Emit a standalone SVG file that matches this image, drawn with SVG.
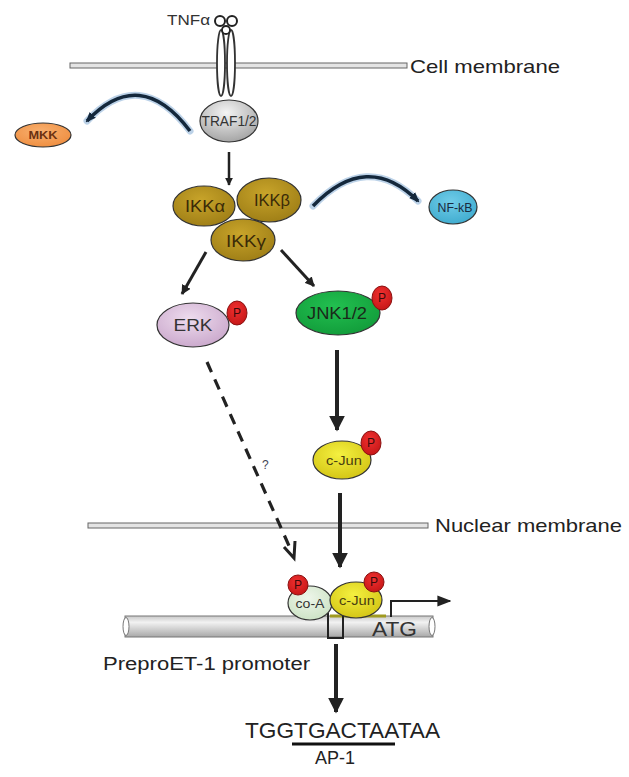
<svg xmlns="http://www.w3.org/2000/svg" width="629" height="777" viewBox="0 0 629 777">
<style>
text{font-family:"Liberation Sans",Arial,sans-serif;}
.lbl{font-size:19px;fill:#222;}
.node{stroke:#333;stroke-width:1.2;}
.p{fill:url(#gP);stroke:#8a1010;stroke-width:1;}
.pt{font-size:12px;fill:#3a0a0a;text-anchor:middle;}
.blk{stroke:#222;fill:none;}
.mem{fill:#e4e4e4;stroke:#666;stroke-width:1;}
</style>
<defs>
<radialGradient id="gTraf" cx="0.45" cy="0.3" r="0.8"><stop offset="0" stop-color="#f4f4f4"/><stop offset="1" stop-color="#9a9a9a"/></radialGradient>
<radialGradient id="gIkk" cx="0.45" cy="0.35" r="0.75"><stop offset="0" stop-color="#c8a42a"/><stop offset="1" stop-color="#9a7a14"/></radialGradient>
<radialGradient id="gErk" cx="0.45" cy="0.35" r="0.75"><stop offset="0" stop-color="#eedcee"/><stop offset="1" stop-color="#c6a2c8"/></radialGradient>
<radialGradient id="gJnk" cx="0.45" cy="0.35" r="0.75"><stop offset="0" stop-color="#22c050"/><stop offset="1" stop-color="#109838"/></radialGradient>
<radialGradient id="gJun" cx="0.45" cy="0.35" r="0.75"><stop offset="0" stop-color="#f4f040"/><stop offset="1" stop-color="#d0c010"/></radialGradient>
<radialGradient id="gCoa" cx="0.45" cy="0.35" r="0.75"><stop offset="0" stop-color="#eef6ea"/><stop offset="1" stop-color="#c8e0c0"/></radialGradient>
<radialGradient id="gP" cx="0.45" cy="0.35" r="0.75"><stop offset="0" stop-color="#f03030"/><stop offset="1" stop-color="#c01414"/></radialGradient>
<radialGradient id="gMkk" cx="0.45" cy="0.35" r="0.75"><stop offset="0" stop-color="#f8b070"/><stop offset="1" stop-color="#ee8a3a"/></radialGradient>
<radialGradient id="gNfkb" cx="0.45" cy="0.35" r="0.75"><stop offset="0" stop-color="#70cce8"/><stop offset="1" stop-color="#3aa8cc"/></radialGradient>
<linearGradient id="gCyl" x1="0" y1="0" x2="0" y2="1"><stop offset="0" stop-color="#c8c8c8"/><stop offset="0.3" stop-color="#f2f2f2"/><stop offset="1" stop-color="#a8a8a8"/></linearGradient>
<marker id="ah" viewBox="0 0 10 10" refX="9" refY="5" markerWidth="4" markerHeight="4" markerUnits="strokeWidth" orient="auto"><path d="M0,0 L10,5 L0,10 z" fill="#222"/></marker>
<marker id="ahs" viewBox="0 0 10 10" refX="9" refY="5" markerWidth="3.2" markerHeight="3.2" markerUnits="strokeWidth" orient="auto"><path d="M0,0 L10,5 L0,10 z" fill="#222"/></marker>
<marker id="ahb" viewBox="0 0 10 10" refX="8" refY="5" markerWidth="3" markerHeight="3" markerUnits="strokeWidth" orient="auto"><path d="M0,1 L10,5 L0,9 z" fill="#14283c"/></marker>
<marker id="aht" viewBox="0 0 10 10" refX="9" refY="5" markerWidth="7" markerHeight="7" markerUnits="strokeWidth" orient="auto"><path d="M0,1 L10,5 L0,9 z" fill="#222"/></marker>
</defs>

<g id="membranes">
<rect class="mem" x="70" y="63" width="337" height="5"/>
<text class="lbl" x="410" y="73" textLength="150" lengthAdjust="spacingAndGlyphs">Cell membrane</text>
<rect class="mem" x="88" y="523" width="340" height="5"/>
<text class="lbl" x="435" y="532" textLength="187" lengthAdjust="spacingAndGlyphs">Nuclear membrane</text>
</g>

<g id="tnf-receptor">
<ellipse cx="221" cy="63" rx="4" ry="33" fill="#fff" stroke="#333" stroke-width="1.8"/>
<ellipse cx="231" cy="63" rx="4" ry="33" fill="#fff" stroke="#333" stroke-width="1.8"/>
<circle cx="220" cy="21" r="5" fill="#fff" stroke="#222" stroke-width="2"/>
<circle cx="232" cy="21" r="5" fill="#fff" stroke="#222" stroke-width="2"/>
<circle cx="226" cy="30" r="4" fill="#fff" stroke="#222" stroke-width="1.8"/>
<text x="167" y="25" textLength="43" lengthAdjust="spacingAndGlyphs" style="font-size:14px;fill:#333">TNFα</text>
</g>

<g id="connectors">
<path d="M190,131 Q140,65 87,121" fill="none" stroke="#8fb4d8" stroke-width="7" stroke-linecap="round" opacity="0.6"/>
<path d="M190,131 Q140,65 87,121" fill="none" stroke="#14283c" stroke-width="3.5" marker-end="url(#ahb)"/>
<path d="M313,206 Q367,150 418,201" fill="none" stroke="#8fb4d8" stroke-width="7" stroke-linecap="round" opacity="0.6"/>
<path d="M313,206 Q367,150 418,201" fill="none" stroke="#14283c" stroke-width="3.5" marker-end="url(#ahb)"/>
<line class="blk" x1="229" y1="152" x2="229" y2="185" stroke-width="2.5" marker-end="url(#ahs)"/>
<line class="blk" x1="206" y1="252" x2="182" y2="294" stroke-width="3" marker-end="url(#ahs)"/>
<line class="blk" x1="281" y1="250" x2="314" y2="286" stroke-width="3" marker-end="url(#ahs)"/>
<line class="blk" x1="337" y1="350" x2="337" y2="430" stroke-width="4" marker-end="url(#ah)"/>
<line class="blk" x1="340" y1="493" x2="340" y2="567" stroke-width="4" marker-end="url(#ah)"/>
<line class="blk" x1="207" y1="362" x2="290" y2="548" stroke-width="3.2" stroke-dasharray="11 8"/>
<path class="blk" d="M284,547 L294,558 L295,541" stroke-width="3"/>
<line class="blk" x1="336" y1="644" x2="336" y2="712" stroke-width="4" marker-end="url(#ah)"/>
<text x="262" y="469" style="font-size:12px;fill:#445">?</text>
</g>

<g id="traf">
<ellipse class="node" cx="229" cy="121" rx="29" ry="21" fill="url(#gTraf)"/>
<text x="229" y="126" text-anchor="middle" textLength="55" lengthAdjust="spacingAndGlyphs" style="font-size:14px;fill:#333">TRAF1/2</text>
</g>

<g id="mkk">
<ellipse class="node" cx="43" cy="135" rx="28" ry="12" fill="url(#gMkk)"/>
<text x="43" y="139" text-anchor="middle" textLength="29" lengthAdjust="spacingAndGlyphs" style="font-size:10px;font-weight:bold;fill:#6a3010">MKK</text>
</g>

<g id="nfkb">
<ellipse class="node" cx="453" cy="207" rx="24" ry="17" fill="url(#gNfkb)"/>
<text x="455" y="212" text-anchor="middle" textLength="35" lengthAdjust="spacingAndGlyphs" style="font-size:12px;fill:#1a2a40">NF-kB</text>
</g>

<g id="ikk">
<ellipse class="node" cx="204" cy="206" rx="31" ry="20" fill="url(#gIkk)"/>
<text x="205" y="212" text-anchor="middle" textLength="40" lengthAdjust="spacingAndGlyphs" style="font-size:17px;fill:#3a2a08">IKKα</text>
<ellipse class="node" cx="269" cy="200" rx="32" ry="22" fill="url(#gIkk)"/>
<text x="272" y="206" text-anchor="middle" textLength="36" lengthAdjust="spacingAndGlyphs" style="font-size:17px;fill:#3a2a08">IKKβ</text>
<ellipse class="node" cx="243" cy="240" rx="32" ry="21" fill="url(#gIkk)"/>
<text x="246" y="247" text-anchor="middle" textLength="40" lengthAdjust="spacingAndGlyphs" style="font-size:17px;fill:#3a2a08">IKKγ</text>
</g>

<g id="erk">
<ellipse class="node" cx="193" cy="325" rx="36" ry="22" fill="url(#gErk)"/>
<text x="193" y="331" text-anchor="middle" textLength="39" lengthAdjust="spacingAndGlyphs" style="font-size:17px;fill:#333">ERK</text>
<ellipse class="p" cx="237" cy="313" rx="10" ry="12"/>
<text class="pt" x="237" y="317">P</text>
</g>

<g id="jnk">
<ellipse class="node" cx="338" cy="313" rx="42" ry="22" fill="url(#gJnk)"/>
<text x="337" y="319" text-anchor="middle" textLength="60" lengthAdjust="spacingAndGlyphs" style="font-size:17px;fill:#1a2a1a">JNK1/2</text>
<ellipse class="p" cx="382" cy="298" rx="10" ry="12"/>
<text class="pt" x="382" y="302">P</text>
</g>

<g id="cjun">
<ellipse class="node" cx="342" cy="460" rx="29" ry="19" fill="url(#gJun)"/>
<text x="344" y="465" text-anchor="middle" textLength="36" lengthAdjust="spacingAndGlyphs" style="font-size:13px;fill:#4a4010">c-Jun</text>
<ellipse class="p" cx="371" cy="443" rx="10" ry="12"/>
<text class="pt" x="371" y="447">P</text>
</g>

<g id="promoter">
<rect x="125" y="616" width="308" height="21" fill="url(#gCyl)" stroke="#777" stroke-width="1"/>
<ellipse cx="126" cy="626.5" rx="3" ry="9" fill="#fff" stroke="#777" stroke-width="1"/>
<ellipse cx="432" cy="626.5" rx="3" ry="9" fill="#fff" stroke="#777" stroke-width="1"/>
<line x1="330" y1="616" x2="386" y2="616" stroke="#a09a20" stroke-width="3"/>
<path class="blk" d="M328,613 L328,638 L343,638 L343,613" stroke-width="2"/>
<path class="blk" d="M391,617 L391,601 L450,601" stroke-width="2" marker-end="url(#aht)"/>
<text x="372" y="636" textLength="45" lengthAdjust="spacingAndGlyphs" style="font-size:20px;fill:#333">ATG</text>
<text x="103" y="670" textLength="207" lengthAdjust="spacingAndGlyphs" style="font-size:18px;fill:#222">PreproET-1 promoter</text>
</g>

<g id="coa-complex">
<ellipse class="node" cx="310" cy="603" rx="22" ry="17" fill="url(#gCoa)"/>
<text x="310" y="608" text-anchor="middle" textLength="29" lengthAdjust="spacingAndGlyphs" style="font-size:12px;fill:#333">co-A</text>
<ellipse class="p" cx="298" cy="585" rx="10" ry="10"/>
<text class="pt" x="298" y="589">P</text>
<ellipse class="node" cx="356" cy="600" rx="26" ry="18" fill="url(#gJun)"/>
<text x="357" y="605" text-anchor="middle" textLength="36" lengthAdjust="spacingAndGlyphs" style="font-size:13px;fill:#4a4010">c-Jun</text>
<ellipse class="p" cx="374" cy="582" rx="10" ry="10"/>
<text class="pt" x="374" y="586">P</text>
</g>

<g id="sequence">
<text x="245" y="738" textLength="195" lengthAdjust="spacingAndGlyphs" style="font-size:22px;fill:#222">TGGTGACTAATAA</text>
<line x1="292" y1="744" x2="395" y2="744" stroke="#111" stroke-width="3"/>
<text x="315" y="764" textLength="40" lengthAdjust="spacingAndGlyphs" style="font-size:18px;fill:#222">AP-1</text>
</g>
</svg>
